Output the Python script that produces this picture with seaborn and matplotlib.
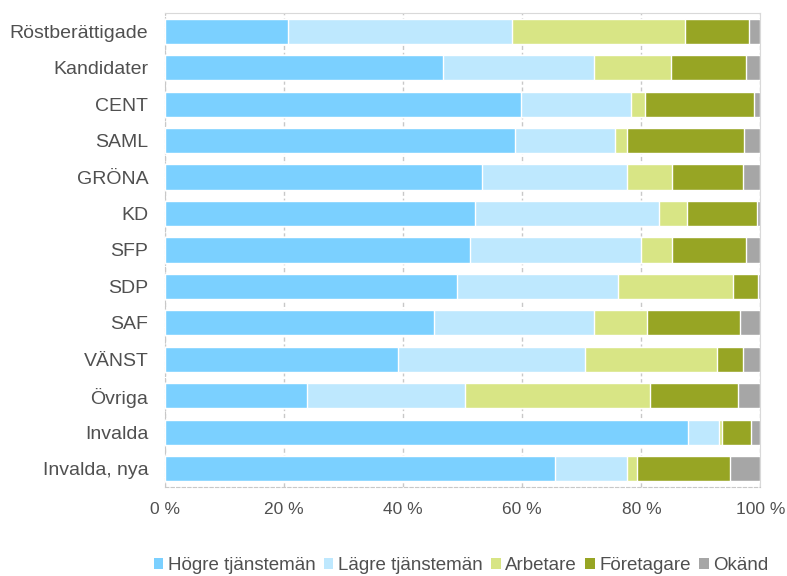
import numpy as np
import pandas as pd
import matplotlib
matplotlib.use("Agg")
import matplotlib.pyplot as plt
import seaborn as sns
from matplotlib.patches import Patch

grupper = ["Röstberättigade", "Kandidater", "CENT", "SAML", "GRÖNA", "KD", "SFP",
           "SDP", "SAF", "VÄNST", "Övriga", "Invalda", "Invalda, nya"]

hogre = [20.6, 46.7, 59.7, 58.8, 53.2, 52.1, 51.3, 49.1, 45.1, 39.2, 23.8, 87.9, 65.5]
lagre = [37.7, 25.3, 18.5, 16.8, 24.4, 30.9, 28.7, 26.9, 26.9, 31.4, 26.6, 5.1, 12.1]
arbetare = [29.0, 12.9, 2.4, 2.0, 7.6, 4.6, 5.2, 19.4, 8.9, 22.1, 31.0, 0.5, 1.7]
foretagare = [10.8, 12.7, 18.3, 19.7, 11.8, 11.8, 12.4, 4.1, 15.6, 4.3, 14.8, 4.9, 15.5]
okand = [1.9, 2.4, 1.1, 2.7, 3.0, 0.6, 2.4, 0.5, 3.5, 3.0, 3.8, 1.6, 5.2]

serier = ["Högre tjänstemän", "Lägre tjänstemän", "Arbetare", "Företagare", "Okänd"]
farger = ["#7BD0FF", "#BEE8FE", "#D8E585", "#97A524", "#A6A6A6"]

df = pd.DataFrame({"grupp": grupper, serier[0]: hogre, serier[1]: lagre,
                   serier[2]: arbetare, serier[3]: foretagare, serier[4]: okand})
# normalise to 100 %
tot = df[serier].sum(axis=1)
for s in serier:
    df[s] = df[s] / tot * 100
kum = df[serier].cumsum(axis=1)

sns.set_style("white")
plt.rcParams["font.family"] = ["Liberation Sans", "DejaVu Sans"]

fig = plt.figure(figsize=(7.87, 5.76), dpi=100)
ax = fig.add_axes([0.2097, 0.1545, 0.7566, 0.823])

# cumulative bars, widest first so shorter ones sit on top
for s, c in reversed(list(zip(serier, farger))):
    sns.barplot(x=kum[s], y=df["grupp"], color=c, orient="h", width=0.69,
                saturation=1, ax=ax, zorder=3)

ax.set_xlim(0, 100)
ax.set_ylim(12.5, -0.5)
ax.set_xticks([0, 20, 40, 60, 80, 100])
ax.set_xticklabels([f"{v} %" for v in [0, 20, 40, 60, 80, 100]])
ax.set_xlabel("")
ax.set_ylabel("")
ax.tick_params(axis="both", length=0, labelcolor="#505050")
ax.tick_params(axis="y", labelsize=14, pad=12)
ax.tick_params(axis="x", labelsize=12.5, pad=11)
ax.grid(axis="x", color="#C8C8C8", linestyle=(0, (3, 2)), linewidth=1, zorder=0)
for side in ["left", "bottom"]:
    ax.spines[side].set_color("#C8C8C8")
    ax.spines[side].set_linestyle((0, (3, 2)))
for side in ["top", "right"]:
    ax.spines[side].set_color("#D9D9D9")

handles = [Patch(facecolor=c, edgecolor="none") for c in farger]
fig.legend(handles, serier, loc="center", bbox_to_anchor=(0.586, 0.018), ncol=5,
           frameon=False, fontsize=13.5, handlelength=0.5, handleheight=0.5,
           handletextpad=0.25, columnspacing=0.45, labelcolor="#505050")

fig.savefig("out.png", dpi=100)
